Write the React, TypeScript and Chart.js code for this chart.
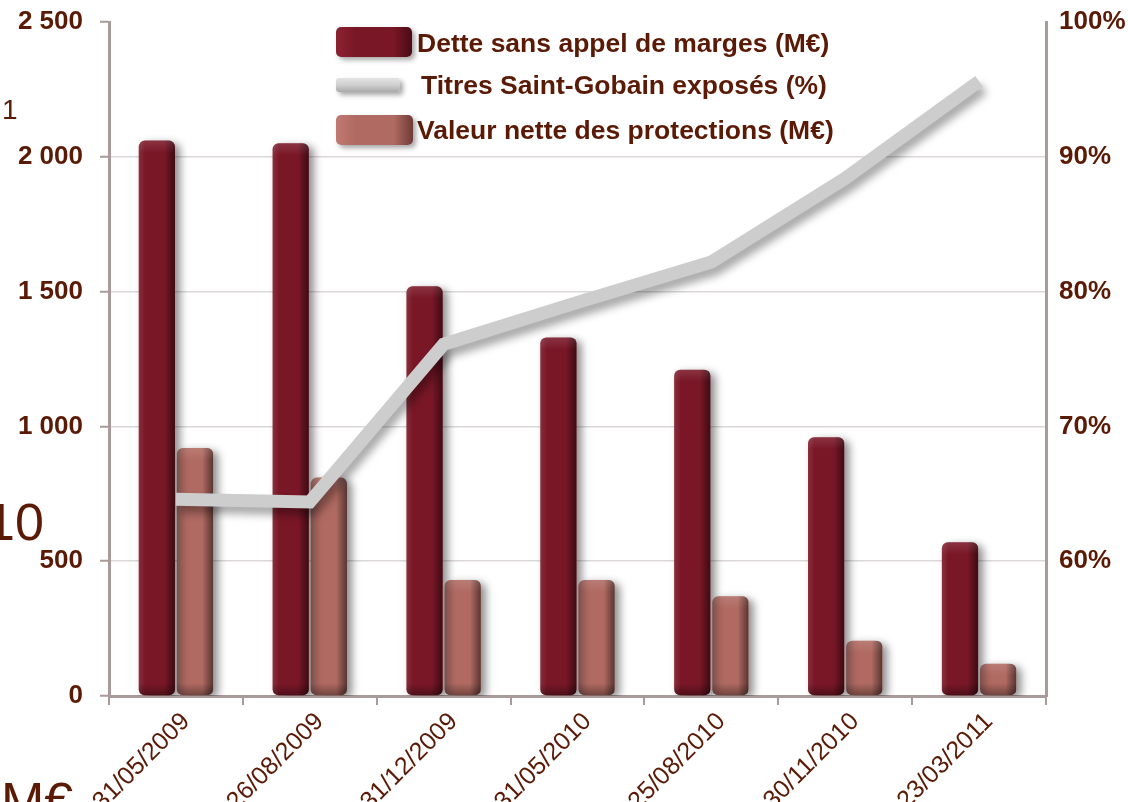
import React, { useEffect, useRef } from "react";
import { Chart, registerables } from "chart.js";

Chart.register(...registerables);

const categories = [
  "31/05/2009",
  "26/08/2009",
  "31/12/2009",
  "31/05/2010",
  "25/08/2010",
  "30/11/2010",
  "23/03/2011",
];
const detteValues = [2060, 2050, 1520, 1330, 1210, 960, 570];
const titresValues = [64.6, 64.4, 76.1, 79.2, 82.2, 88.4, 95.6];
const protectionValues = [920, 810, 430, 430, 370, 205, 120];
const seriesLabels = [
  "Dette sans appel de marges (M€)",
  "Titres Saint-Gobain exposés (%)",
  "Valeur nette des protections (M€)",
];
const leftTicks = [0, 500, 1000, 1500, 2000, 2500];
const rightTicks = [60, 70, 80, 90, 100];

const TEXT = "#5a1a06";
const AXIS = "#a99b99";
const DARK = "#7a1727";
const LIGHT = "#b06a62";
const LINE = "#cdcdcd";
const FONT = "'Liberation Sans', Arial, sans-serif";

const fmtThousands = (v: number) =>
  String(v).replace(/\B(?=(\d{3})+(?!\d))/g, " ");

const bevelPlugin = {
  id: "bevel",
  beforeDatasetDraw(chart: any, args: any) {
    const ctx = chart.ctx;
    ctx.save();
    if (args.meta.type === "bar") {
      ctx.shadowColor = "rgba(0,0,0,0.45)";
      ctx.shadowBlur = 9;
      ctx.shadowOffsetX = 5;
      ctx.shadowOffsetY = 3;
    } else {
      ctx.shadowColor = "rgba(0,0,0,0.35)";
      ctx.shadowBlur = 9;
      ctx.shadowOffsetX = 4;
      ctx.shadowOffsetY = 7;
    }
  },
  afterDatasetDraw(chart: any, args: any) {
    const ctx = chart.ctx;
    ctx.restore();
    if (args.meta.type !== "bar") return;
    args.meta.data.forEach((el: any) => {
      const { x, y, base, width } = el.getProps(["x", "y", "base", "width"], true);
      const left = x - width / 2;
      const top = Math.min(y, base);
      const h = Math.abs(base - y);
      ctx.save();
      ctx.beginPath();
      (ctx as any).roundRect(left, top, width, h, 6);
      ctx.clip();
      const g = ctx.createLinearGradient(left, 0, left + width, 0);
      g.addColorStop(0, "rgba(255,255,255,0.10)");
      g.addColorStop(0.18, "rgba(255,255,255,0)");
      g.addColorStop(0.7, "rgba(0,0,0,0)");
      g.addColorStop(1, "rgba(0,0,0,0.5)");
      ctx.fillStyle = g;
      ctx.fillRect(left, top, width, h);
      const gt = ctx.createLinearGradient(0, top, 0, top + 12);
      gt.addColorStop(0, "rgba(255,255,255,0.12)");
      gt.addColorStop(1, "rgba(255,255,255,0)");
      ctx.fillStyle = gt;
      ctx.fillRect(left, top, width, Math.min(12, h));
      const gb = ctx.createLinearGradient(0, top + h - 12, 0, top + h);
      gb.addColorStop(0, "rgba(0,0,0,0)");
      gb.addColorStop(1, "rgba(0,0,0,0.35)");
      ctx.fillStyle = gb;
      ctx.fillRect(left, top + Math.max(0, h - 12), width, Math.min(12, h));
      ctx.restore();
    });
  },
};

export default function App() {
  const canvasRef = useRef<HTMLCanvasElement | null>(null);

  useEffect(() => {
    document.body.style.margin = "0";
    const canvas = canvasRef.current;
    if (!canvas) return;
    const chart = new Chart(canvas, {
      type: "bar",
      data: {
        labels: categories,
        datasets: [
          {
            type: "bar",
            label: seriesLabels[0],
            data: detteValues,
            backgroundColor: DARK,
            borderRadius: 6,
            borderSkipped: false,
            yAxisID: "y",
            order: 1,
            barPercentage: 0.95,
            categoryPercentage: 0.57,
          },
          {
            type: "line",
            label: seriesLabels[1],
            data: titresValues,
            borderColor: LINE,
            borderWidth: 13,
            borderJoinStyle: "miter",
            borderCapStyle: "butt",
            pointRadius: 0,
            fill: false,
            tension: 0,
            yAxisID: "y1",
            order: 0,
          },
          {
            type: "bar",
            label: seriesLabels[2],
            data: protectionValues,
            backgroundColor: LIGHT,
            borderRadius: 6,
            borderSkipped: false,
            yAxisID: "y",
            order: 1,
            barPercentage: 0.95,
            categoryPercentage: 0.57,
          },
        ] as any,
      },
      options: {
        responsive: false,
        animation: false,
        layout: { padding: { top: 22, left: 0, right: 0, bottom: 0 } },
        plugins: {
          legend: { display: false },
          tooltip: { enabled: false },
        },
        scales: {
          x: {
            offset: true,
            grid: {
              display: true,
              drawOnChartArea: false,
              tickLength: 9,
              color: AXIS,
              lineWidth: 2,
            },
            border: { display: true, color: AXIS, width: 3 },
            ticks: {
              autoSkip: false,
              minRotation: 45,
              maxRotation: 45,
              color: TEXT,
              padding: 2,
              labelOffset: 10,
              font: { family: FONT, size: 25 },
            },
            afterFit(scale: any) {
              scale.height = 106;
            },
          },
          y: {
            position: "left",
            min: 0,
            max: 2500,
            afterBuildTicks(scale: any) {
              scale.ticks = leftTicks.map((v) => ({ value: v }));
            },
            grid: {
              color: (ctx: any) =>
                ctx.tick && ctx.tick.value === 2500 ? "rgba(0,0,0,0)" : "#dcd8d8",
              lineWidth: 1.5,
              tickLength: 9,
              tickColor: AXIS,
              tickWidth: 2,
            } as any,
            border: { display: true, color: AXIS, width: 3 },
            ticks: {
              color: TEXT,
              padding: 17,
              font: { family: FONT, size: 26, weight: "bold" },
              callback: (v: any) => fmtThousands(Number(v)),
            },
            afterFit(scale: any) {
              scale.width = 109;
              scale.paddingTop = 0;
              scale.paddingBottom = 0;
            },
          },
          y1: {
            position: "right",
            min: 50,
            max: 100,
            afterBuildTicks(scale: any) {
              scale.ticks = rightTicks.map((v) => ({ value: v }));
            },
            grid: { display: false, drawOnChartArea: false },
            border: { display: true, color: AXIS, width: 3 },
            ticks: {
              color: TEXT,
              padding: 5,
              font: { family: FONT, size: 26, weight: "bold" },
              callback: (v: any) => `${v}%`,
            },
            afterFit(scale: any) {
              scale.width = 82;
              scale.paddingTop = 0;
              scale.paddingBottom = 0;
            },
          },
        },
      } as any,
      plugins: [bevelPlugin],
    });
    return () => chart.destroy();
  }, []);

  const boxBase: React.CSSProperties = {
    position: "absolute",
    left: 336,
    borderRadius: 5,
    boxShadow: "3px 3px 5px rgba(0,0,0,0.35)",
  };
  const textBase: React.CSSProperties = {
    position: "absolute",
    fontFamily: FONT,
    fontWeight: "bold",
    fontSize: 26.5,
    color: TEXT,
    lineHeight: "30px",
    whiteSpace: "nowrap",
  };
  const fragment: React.CSSProperties = {
    position: "absolute",
    fontFamily: FONT,
    color: TEXT,
    lineHeight: 1,
    whiteSpace: "nowrap",
  };

  return (
    <div
      style={{
        position: "relative",
        width: 1128,
        height: 802,
        overflow: "hidden",
        background: "#ffffff",
      }}
    >
      <canvas
        ref={canvasRef}
        width={1128}
        height={802}
        style={{ display: "block", position: "absolute", left: 0, top: 0 }}
      />
      <div style={{ ...fragment, left: 2, top: 96, fontSize: 28 }}>1</div>
      <div style={{ ...fragment, left: -14, top: 496, fontSize: 52 }}>10</div>
      <div style={{ ...fragment, left: 1, top: 775, fontSize: 52 }}>M€</div>

      <div
        style={{
          ...boxBase,
          top: 27,
          width: 76,
          height: 30,
          background: `linear-gradient(to right, #8c2232 0%, ${DARK} 25%, ${DARK} 75%, #4a0b14 100%)`,
        }}
      />
      <div style={{ ...textBase, left: 417, top: 28 }}>{seriesLabels[0]}</div>
      <div
        style={{
          ...boxBase,
          top: 78,
          width: 64,
          height: 14,
          borderRadius: 3,
          background: "linear-gradient(to bottom, #e4e4e4 0%, #cfcfcf 50%, #a9a9a9 100%)",
        }}
      />
      <div style={{ ...textBase, left: 421, top: 70 }}>{seriesLabels[1]}</div>
      <div
        style={{
          ...boxBase,
          top: 115,
          width: 77,
          height: 30,
          background: `linear-gradient(to right, #c07a72 0%, ${LIGHT} 25%, ${LIGHT} 75%, #6e3b36 100%)`,
        }}
      />
      <div style={{ ...textBase, left: 417, top: 115 }}>{seriesLabels[2]}</div>
    </div>
  );
}
